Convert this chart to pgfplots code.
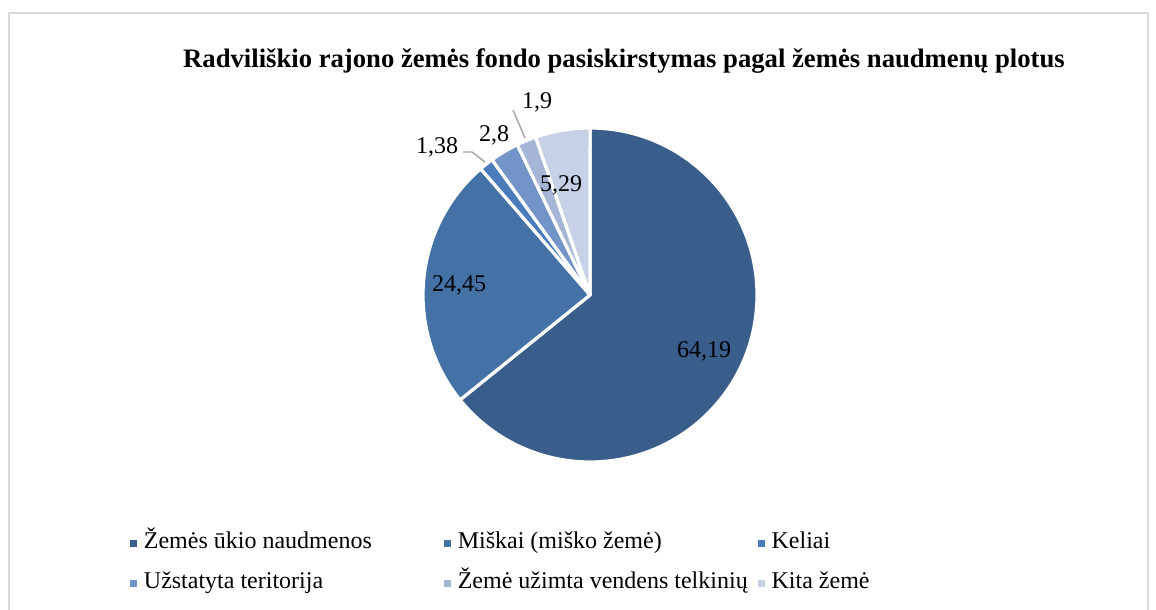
\documentclass[border=0pt]{standalone}
\usepackage{fontspec}
\setmainfont{Liberation Serif}
\usepackage{pgfplots}
\pgfplotsset{compat=1.18}

\definecolor{c1}{HTML}{3A5E8C}
\definecolor{c2}{HTML}{4471A6}
\definecolor{c3}{HTML}{4A7BBA}
\definecolor{c4}{HTML}{7394C8}
\definecolor{c5}{HTML}{A4B5D6}
\definecolor{c6}{HTML}{C6D0E6}
\definecolor{framegray}{HTML}{D9D9D9}
\definecolor{leadergray}{HTML}{A6A6A6}

% slice: start (per cent), value (per cent), colour; clockwise from 12 o'clock
\newcommand\pieslice[3]{%
  \pgfmathsetmacro\sa{90-3.6*#1}%
  \pgfmathsetmacro\sb{90-3.6*(#1+#2)}%
  \edef\tmp{\noexpand\filldraw[fill=#3, draw=white, line width=2.4pt, line join=round]
    (axis cs:590,315) -- ++(\sa:125.25pt) arc[start angle=\sa, end angle=\sb, radius=125.25pt] -- cycle;}%
  \tmp}

\begin{document}
\begin{tikzpicture}
\useasboundingbox (0,0) rectangle (867pt,457.5pt);
\begin{axis}[
  at={(0,0)}, anchor=south west,
  x=0.75pt, y=0.75pt,
  xmin=0, xmax=1156, ymin=0, ymax=610,
  hide axis, clip=false,
  title={Radviliškio rajono žemės fondo pasiskirstymas pagal žemės naudmenų plotus},
  title style={at={(0.5398,0.8754)}, anchor=base, yshift=0pt, inner sep=0pt,
    font=\bfseries\fontsize{20}{24}\selectfont},
  legend columns=3,
  legend cell align=left,
  legend image code/.code={\fill[#1] (0pt,-2.4pt) rectangle (4.8pt,2.4pt);},
  legend style={at={(0.1125,0.1279)}, anchor=north west, draw=none, fill=none,
    inner sep=0pt, outer sep=0pt, row sep=13.4pt, column sep=0pt,
    font=\fontsize{18}{20}\selectfont,
    nodes={inner sep=0pt, text height=12.6pt, text depth=4pt},
    /tikz/every odd column/.append style={column sep=5.2pt}},
]
\draw[framegray, line width=1.5pt] (axis cs:9,-20) -- (axis cs:9,597) -- (axis cs:1148,597) -- (axis cs:1148,-20);

\pieslice{0}{64.19}{c1}
\pieslice{64.19}{24.45}{c2}
\pieslice{88.64}{1.38}{c3}
\pieslice{90.02}{2.8}{c4}
\pieslice{92.82}{1.9}{c5}
\pieslice{94.72}{5.29}{c6}

% leader lines
\addplot[forget plot, leadergray, line width=1.1pt] coordinates {(463,458) (472,458) (485,448)};
\addplot[forget plot, leadergray, line width=1.1pt] coordinates {(513,500) (525,472)};

% data labels
\addplot[forget plot, draw=none, mark=none, nodes near coords, point meta=explicit symbolic,
  nodes near coords align=center,
  every node near coord/.append style={font=\fontsize{18}{20}\selectfont, inner sep=0pt, anchor=center, text=black}]
  table[meta=label] {
x   y   label
704 259 64,19
459 325 24,45
437 463 1,38
494 475 2,8
537 508 1,9
561 425 5,29
};

\addlegendimage{c1}
\addlegendentry{\makebox[225pt][l]{Žemės ūkio naudmenos}}
\addlegendimage{c2}
\addlegendentry{\makebox[225pt][l]{Miškai (miško žemė)}}
\addlegendimage{c3}
\addlegendentry{\makebox[225pt][l]{Keliai}}
\addlegendimage{c4}
\addlegendentry{\makebox[225pt][l]{Užstatyta teritorija}}
\addlegendimage{c5}
\addlegendentry{\makebox[225pt][l]{Žemė užimta vendens telkinių}}
\addlegendimage{c6}
\addlegendentry{\makebox[225pt][l]{Kita žemė}}
\end{axis}
\end{tikzpicture}
\end{document}
